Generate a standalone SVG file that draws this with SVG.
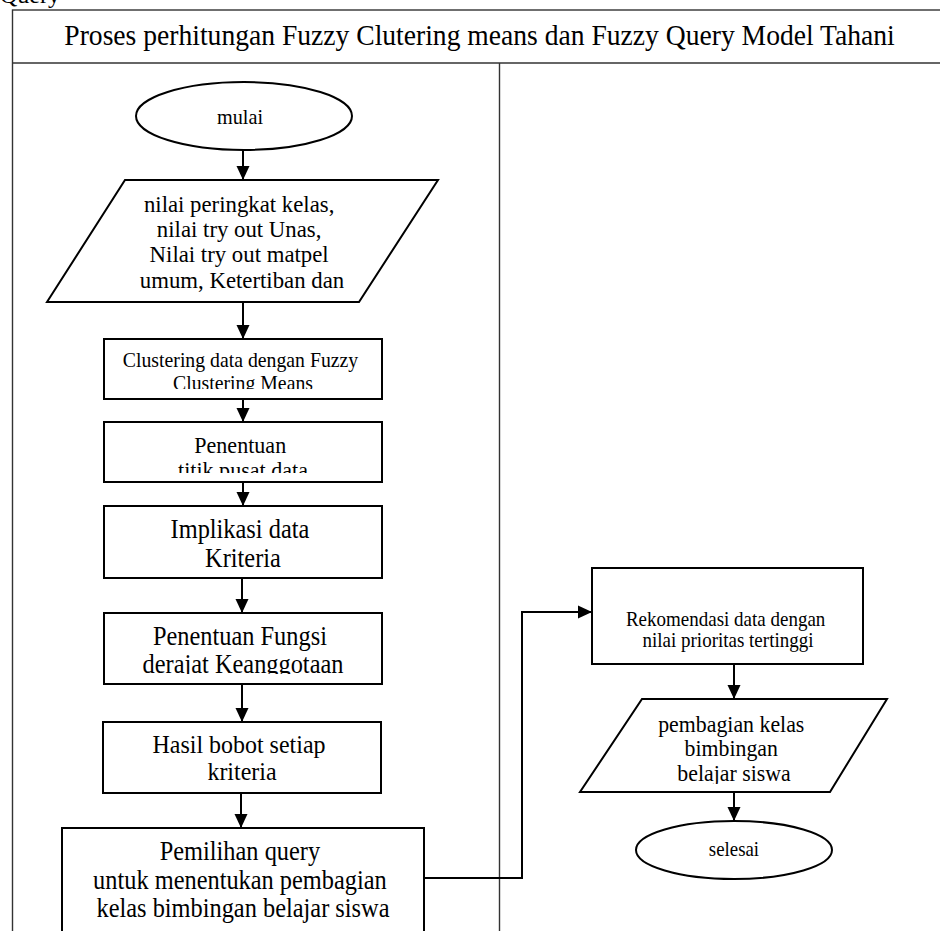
<svg xmlns="http://www.w3.org/2000/svg" width="940" height="931" viewBox="0 0 940 931">
<style>
  text { font-family: "Liberation Serif", "Times New Roman", serif; fill: #000; text-anchor: middle; }
  .shape { fill: #fff; stroke: #000; stroke-width: 2; }
  .frame { fill: none; stroke: #333; stroke-width: 1.4; }
  .link { fill: none; stroke: #000; stroke-width: 2; }
  .arrow { marker-end: url(#head); }
</style>
<defs>
  <marker id="head" markerUnits="userSpaceOnUse" markerWidth="14" markerHeight="14" viewBox="0 0 14 14" refX="14" refY="7" orient="auto">
    <path d="M0,0.5 L14,7 L0,13.5 Z" fill="#000"/>
  </marker>
  <clipPath id="clipCluster"><rect x="104" y="339" width="278" height="50"/></clipPath>
  <clipPath id="clipCentre"><rect x="104" y="422" width="278" height="51"/></clipPath>
  <clipPath id="clipFungsi"><rect x="104" y="613" width="278" height="61"/></clipPath>
  <clipPath id="clipOutput"><rect x="580" y="699" width="307" height="85"/></clipPath>
</defs>

<!-- running text line above the table -->
<text x="0" y="3" font-size="24" style="text-anchor:start">Query</text>

<!-- swimlane table -->
<g id="table">
  <rect class="frame" x="12.5" y="10" width="940" height="940"/>
  <line class="frame" x1="12.5" y1="63" x2="945" y2="63"/>
  <line class="frame" x1="499.5" y1="63" x2="499.5" y2="931"/>
  <text x="479.5" y="45" font-size="30" transform="translate(479.5 0) scale(0.92 1) translate(-479.5 0)">Proses perhitungan Fuzzy Clutering means dan Fuzzy Query Model Tahani</text>
</g>

<!-- connectors -->
<g id="connectors">
  <path class="link arrow" d="M243,150 V180"/>
  <path class="link arrow" d="M243,302 V339"/>
  <path class="link arrow" d="M243,399 V422"/>
  <path class="link arrow" d="M243,482 V506"/>
  <path class="link arrow" d="M242,578 V613"/>
  <path class="link arrow" d="M242,684 V722"/>
  <path class="link arrow" d="M241,793 V828"/>
  <path class="link arrow" d="M424,878 H522 V612 H592"/>
  <path class="link arrow" d="M734,664 V699"/>
  <path class="link arrow" d="M734,792 V821"/>
</g>

<g id="start">
  <ellipse class="shape" cx="244" cy="116" rx="108" ry="34"/>
  <text x="240" y="124" font-size="22" transform="translate(240 0) scale(0.92 1) translate(-240 0)">mulai</text>
</g>

<g id="input">
  <polygon class="shape" points="125,180 438,180 359,302 47,302"/>
  <text font-size="24" transform="translate(242 0) scale(0.95 1) translate(-242 0)">
    <tspan x="242" y="212">nilai peringkat kelas,</tspan>
    <tspan x="242" y="237">nilai try out Unas,</tspan>
    <tspan x="242" y="262">Nilai try out matpel</tspan>
    <tspan x="242" y="288">umum, Ketertiban dan</tspan>
  </text>
</g>

<g id="clustering">
  <rect class="shape" x="104" y="339" width="278" height="60"/>
  <g clip-path="url(#clipCluster)">
    <text font-size="21.5" transform="translate(243 0) scale(0.92 1) translate(-243 0)">
      <tspan x="243" y="367">Clustering data dengan Fuzzy</tspan>
      <tspan x="243" y="390">Clustering Means</tspan>
    </text>
  </g>
</g>

<g id="centroid">
  <rect class="shape" x="104" y="422" width="278" height="60"/>
  <g clip-path="url(#clipCentre)">
    <text font-size="24" transform="translate(243 0) scale(0.92 1) translate(-243 0)">
      <tspan x="243" y="453">Penentuan</tspan>
      <tspan x="243" y="478">titik pusat data</tspan>
    </text>
  </g>
</g>

<g id="implication">
  <rect class="shape" x="104" y="506" width="278" height="72"/>
  <text font-size="26.5" transform="translate(243 0) scale(0.92 1) translate(-243 0)">
    <tspan x="243" y="538">Implikasi data</tspan>
    <tspan x="243" y="567">Kriteria</tspan>
  </text>
</g>

<g id="membership">
  <rect class="shape" x="104" y="613" width="278" height="71"/>
  <g clip-path="url(#clipFungsi)">
    <text font-size="26.5" transform="translate(243 0) scale(0.92 1) translate(-243 0)">
      <tspan x="243" y="645">Penentuan Fungsi</tspan>
      <tspan x="243" y="673">derajat Keanggotaan</tspan>
    </text>
  </g>
</g>

<g id="weights">
  <rect class="shape" x="103" y="722" width="278" height="71"/>
  <text font-size="25.5" transform="translate(242 0) scale(0.94 1) translate(-242 0)">
    <tspan x="242" y="753">Hasil bobot setiap</tspan>
    <tspan x="242" y="780">kriteria</tspan>
  </text>
</g>

<g id="query">
  <rect class="shape" x="62" y="828" width="362" height="120"/>
  <text font-size="26.5" transform="translate(243 0) scale(0.92 1) translate(-243 0)">
    <tspan x="243" y="860">Pemilihan query</tspan>
    <tspan x="243" y="889">untuk menentukan pembagian</tspan>
    <tspan x="243" y="917">kelas bimbingan belajar siswa</tspan>
  </text>
</g>

<g id="recommendation">
  <rect class="shape" x="592" y="568" width="271" height="96"/>
  <text font-size="20" transform="translate(728 0) scale(0.95 1) translate(-728 0)">
    <tspan x="728" y="626">Rekomendasi data dengan</tspan>
    <tspan x="728" y="647">nilai prioritas tertinggi</tspan>
  </text>
</g>

<g id="output">
  <polygon class="shape" points="642,699 887,699 830,792 580,792"/>
  <g clip-path="url(#clipOutput)">
    <text font-size="23" transform="translate(734 0) scale(0.95 1) translate(-734 0)">
      <tspan x="734" y="732">pembagian kelas</tspan>
      <tspan x="734" y="756">bimbingan</tspan>
      <tspan x="734" y="781">belajar siswa</tspan>
    </text>
  </g>
</g>

<g id="end">
  <ellipse class="shape" cx="734" cy="850" rx="98" ry="29"/>
  <text x="734" y="856" font-size="20.5" transform="translate(734 0) scale(0.92 1) translate(-734 0)">selesai</text>
</g>
</svg>
